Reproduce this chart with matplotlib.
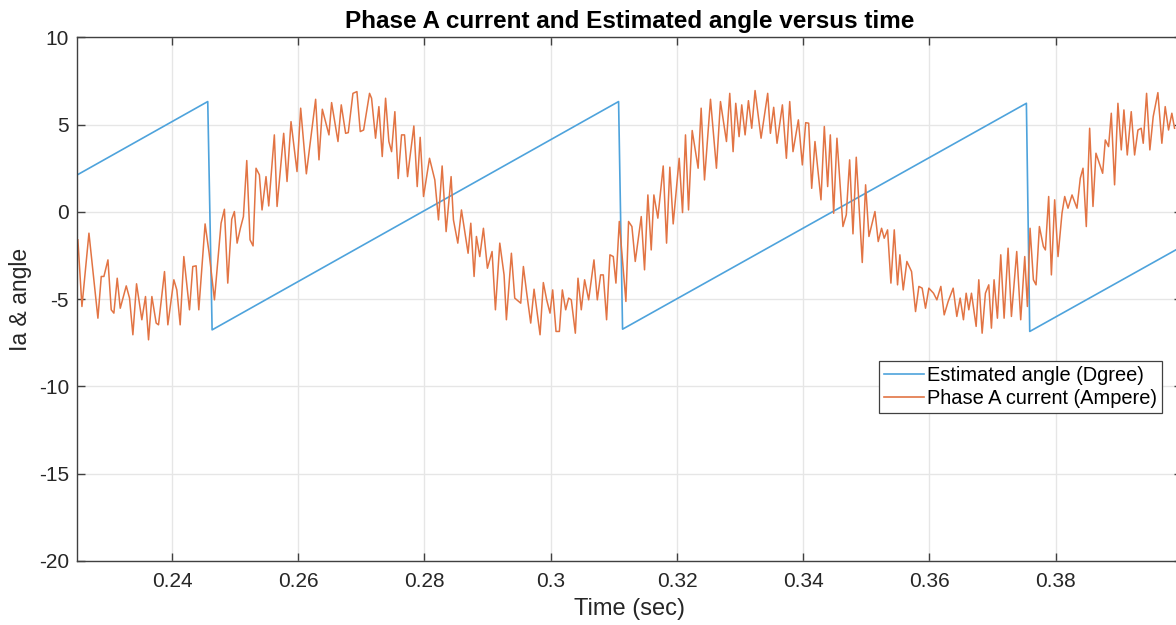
import matplotlib
matplotlib.use("Agg")
import matplotlib.pyplot as plt
from matplotlib.ticker import FuncFormatter

plt.rcParams["font.family"] = ["Liberation Sans", "DejaVu Sans"]
plt.rcParams["axes.unicode_minus"] = False

# sawtooth corners of the estimated angle
angle_t = [0.2250, 0.24567, 0.24636, 0.31075, 0.31138, 0.37535, 0.37588, 0.4000]
angle_v = [2.12, 6.32, -6.76, 6.32, -6.72, 6.22, -6.85, -1.98]

# phase A current samples
ia_t = [
    0.22510, 0.22574, 0.22685, 0.22827, 0.22880, 0.22922, 0.22986, 0.23038, 0.23080, 0.23133,
    0.23181, 0.23276, 0.23328, 0.23381, 0.23439, 0.23523, 0.23581, 0.23629, 0.23682, 0.23750,
    0.23787, 0.23882, 0.23935, 0.24030, 0.24077, 0.24130, 0.24188, 0.24278, 0.24330, 0.24383,
    0.24425, 0.24525, 0.24589, 0.24673, 0.24778, 0.24831, 0.24884, 0.24947, 0.24989, 0.25032,
    0.25084, 0.25132, 0.25185, 0.25237, 0.25285, 0.25332, 0.25385, 0.25427, 0.25490, 0.25533,
    0.25622, 0.25665,
    0.25770, 0.25823, 0.25886, 0.25981, 0.26039, 0.26129, 0.26276, 0.26329, 0.26382, 0.26487,
    0.26529, 0.26630, 0.26682, 0.26751, 0.26793, 0.26867, 0.26930, 0.26983, 0.27036, 0.27130,
    0.27162, 0.27225, 0.27278, 0.27331, 0.27384, 0.27436, 0.27479, 0.27531, 0.27584, 0.27637,
    0.27684, 0.27732, 0.27832, 0.27885, 0.27932, 0.27985, 0.28080, 0.28164, 0.28222, 0.28280,
    0.28343, 0.28422, 0.28459, 0.28528, 0.28586, 0.28691,
    0.28734, 0.28786, 0.28823, 0.28876, 0.28934, 0.28997, 0.29071, 0.29124, 0.29193, 0.29261,
    0.29298, 0.29377, 0.29430, 0.29525, 0.29567, 0.29620, 0.29683, 0.29736, 0.29831, 0.29883,
    0.29936, 0.29989, 0.30031, 0.30084, 0.30137, 0.30184, 0.30237, 0.30284, 0.30326, 0.30390,
    0.30432, 0.30484, 0.30537, 0.30601, 0.30685, 0.30738, 0.30790, 0.30833, 0.30885, 0.30938,
    0.30991, 0.31033, 0.31086, 0.31191, 0.31233, 0.31286, 0.31339, 0.31434, 0.31486, 0.31539,
    0.31592, 0.31634, 0.31697,
    0.31782, 0.31835, 0.31887, 0.31940, 0.32035, 0.32088, 0.32135, 0.32183, 0.32241, 0.32335,
    0.32383, 0.32436, 0.32531, 0.32625, 0.32689, 0.32784, 0.32836, 0.32889, 0.32931, 0.32984,
    0.33026, 0.33079, 0.33132, 0.33184, 0.33237, 0.33332, 0.33437, 0.33480, 0.33532, 0.33585,
    0.33670, 0.33733, 0.33786, 0.33838, 0.33923, 0.33986, 0.34039, 0.34086, 0.34134, 0.34186,
    0.34281, 0.34334, 0.34387, 0.34429, 0.34482, 0.34534, 0.34629, 0.34682, 0.34735,
    0.34788, 0.34840, 0.34935, 0.34988, 0.35041, 0.35136, 0.35188, 0.35241, 0.35283, 0.35336,
    0.35389, 0.35442, 0.35494, 0.35531, 0.35584, 0.35642, 0.35716, 0.35779, 0.35832, 0.35884,
    0.35937, 0.35990, 0.36064, 0.36117, 0.36180, 0.36233, 0.36296, 0.36375, 0.36433, 0.36486,
    0.36538, 0.36581, 0.36623, 0.36665, 0.36739, 0.36781, 0.36834, 0.36886, 0.36939, 0.36981,
    0.37023, 0.37076, 0.37129, 0.37182, 0.37245, 0.37298, 0.37382, 0.37445, 0.37509, 0.37551,
    0.37593, 0.37646, 0.37688, 0.37741, 0.37804,
    0.37836, 0.37888, 0.37931, 0.37983, 0.38036, 0.38099, 0.38142, 0.38194, 0.38258, 0.38336,
    0.38389, 0.38432, 0.38484, 0.38537, 0.38590, 0.38637, 0.38690, 0.38743, 0.38785, 0.38837,
    0.38880, 0.38932, 0.38985, 0.39038, 0.39080, 0.39133, 0.39196, 0.39249, 0.39302, 0.39354,
    0.39386, 0.39439, 0.39491, 0.39544, 0.39618, 0.39681, 0.39734, 0.39787, 0.39839, 0.39882,
]
ia_v = [
    -1.60, -5.42, -1.22, -6.09, -3.70, -3.70, -2.75, -5.61, -5.80, -3.80,
    -5.52, -4.24, -4.94, -7.04, -4.12, -6.18, -4.85, -7.33, -4.85, -6.37,
    -6.47, -3.42, -6.47, -3.89, -4.47, -6.47, -2.56, -5.61, -3.13, -3.09,
    -5.61, -0.69, -2.37, -5.04, -0.65, 0.15, -4.08, -0.42, 0.02, -1.79,
    -0.94, -0.27, 2.94, -1.60, -1.95, 2.50, 2.12, 0.11, 2.02, 0.34,
    4.41, 0.31,
    4.50, 1.74, 5.17, 2.31, 5.94, 2.18, 6.45, 2.98, 5.88, 4.41,
    6.26, 4.03, 6.13, 4.50, 4.54, 6.79, 6.89, 4.60, 4.69, 6.79,
    6.51, 4.22, 6.03, 3.17, 6.51, 4.03, 3.45, 5.74, 1.91, 4.41,
    4.41, 2.02, 4.92, 1.45, 4.27, 0.88, 3.07, 1.83, -0.46, 2.63,
    -1.13, 2.02, -0.46, -1.79, 0.11, -2.37,
    -0.65, -3.70, -1.41, -2.56, -0.94, -3.23, -2.27, -5.61, -1.79, -3.61,
    -6.18, -2.37, -4.94, -5.23, -3.13, -4.66, -6.37, -4.43, -7.04, -4.05,
    -5.04, -5.80, -4.47, -6.85, -6.85, -4.47, -5.61, -4.94, -5.04, -6.95,
    -3.80, -5.61, -3.89, -5.04, -2.75, -5.04, -3.61, -3.61, -6.18, -2.46,
    -2.56, -4.08, -0.55, -5.13, -0.55, -0.84, -2.84, -0.27, -3.32, 0.97,
    -2.18, 0.97, -0.36,
    2.63, -1.79, 2.56, -0.69, 3.07, -0.04, 4.41, 0.11, 4.66, 2.50,
    5.94, 1.83, 6.45, 2.50, 6.32, 4.03, 6.79, 3.45, 6.22, 4.31,
    6.13, 4.41, 6.37, 4.79, 6.95, 4.22, 6.79, 4.50, 5.99, 3.93,
    6.13, 3.07, 6.32, 3.45, 5.27, 2.69, 5.11, 5.08, 1.35, 4.03,
    0.69, 4.89, 1.45, 4.41, -0.08, 4.22, -0.84, -0.17, 2.98,
    -1.26, 3.13, -2.90, 1.55, -1.41, 0.02, -1.70, -0.94, -1.51, -1.03,
    -4.08, -1.03, -4.18, -2.46, -4.47, -2.84, -3.42, -5.71, -4.27, -4.37,
    -5.52, -4.37, -4.66, -5.04, -4.27, -5.90, -5.13, -4.37, -5.99, -4.94,
    -6.18, -4.66, -5.61, -4.66, -6.56, -3.89, -6.95, -4.66, -4.18, -6.66,
    -3.89, -6.09, -2.46, -6.09, -2.08, -5.99, -2.27, -6.18, -2.56, -5.42,
    -0.94, -3.89, -4.18, -0.84, -1.98,
    -2.18, 0.88, -3.61, 0.69, -2.56, -0.08, 0.88, 0.21, 0.97, 0.21,
    1.93, 2.50, -0.84, 4.79, 0.31, 3.36, 2.79, 2.21, 4.12, 3.74,
    5.65, 1.55, 6.22, 3.55, 5.84, 3.26, 5.74, 3.26, 4.69, 4.79,
    3.93, 6.79, 3.55, 5.46, 6.83, 3.93, 6.03, 4.69, 5.65, 4.79,
]

x_ticks = [0.24, 0.26, 0.28, 0.30, 0.32, 0.34, 0.36, 0.38]
y_ticks = [-20, -15, -10, -5, 0, 5, 10]

text_col = "#262626"

fig = plt.figure(figsize=(11.76, 6.25), dpi=100)
ax = fig.add_axes([0.0657, 0.1024, 0.9394, 0.8379])

ax.plot(angle_t, angle_v, color="#4ea3dc", lw=1.2, label="Estimated angle (Dgree)")
ax.plot(ia_t, ia_v, color="#e27444", lw=1.1, label="Phase A current (Ampere)")

ax.set_xlim(0.225, 0.4)
ax.set_ylim(-20, 10)
ax.set_xticks(x_ticks)
ax.set_yticks(y_ticks)
ax.xaxis.set_major_formatter(FuncFormatter(lambda v, _: f"{v:g}"))
ax.grid(True, color="#e6e6e6", lw=1.0)
ax.set_axisbelow(True)
ax.tick_params(direction="in", length=6, width=1.0, color="#404040", top=True, right=True,
               labelsize=15, labelcolor=text_col)
ax.tick_params(axis="x", pad=8)
ax.tick_params(axis="y", pad=6)
for s in ax.spines.values():
    s.set_color("#404040")
    s.set_linewidth(1.0)

ax.set_xlabel("Time (sec)", fontsize=17, color=text_col, labelpad=5)
ax.set_ylabel("Ia & angle", fontsize=16.5, color=text_col, labelpad=5)
ax.set_title("Phase A current and Estimated angle versus time", fontsize=17.5,
             fontweight="bold", color="black", pad=7)

leg = ax.legend(loc="upper right", bbox_to_anchor=(0.982, 0.382), fontsize=14.4,
                frameon=True, fancybox=False, framealpha=1, edgecolor="#404040",
                borderpad=0.25, handlelength=2.0, handletextpad=0.15,
                labelspacing=0.22, borderaxespad=0)
leg.get_frame().set_linewidth(0.9)
for h in leg.get_lines():
    h.set_linewidth(1.2)

fig.savefig("out.png", dpi=100)
